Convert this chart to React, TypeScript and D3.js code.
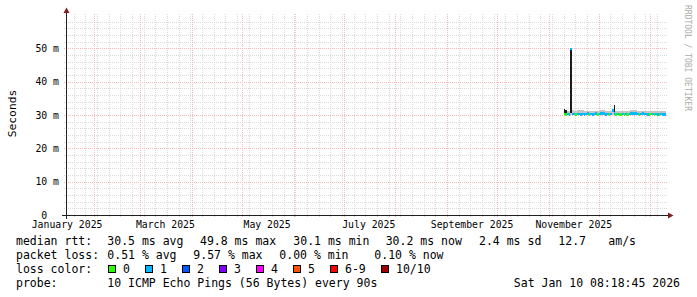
import React from "react";
import * as d3 from "d3";

// ---- data ----
const END_TIME = new Date(Date.UTC(2026, 0, 10, 8, 18, 45));
const SPAN_DAYS = 360;
const FIRST_SAMPLE_DAY = new Date(Date.UTC(2025, 10, 10));

const medianMs = [
  30.3, 30.2, 30.3, 30.2, 49.8, 30.3, 30.3, 30.2, 30.3, 30.3,
  30.2, 30.3, 30.2, 30.3, 30.4, 30.2, 30.3, 30.2, 30.3, 30.4,
  30.2, 30.3, 30.5, 30.5, 30.4, 30.2, 30.3, 30.2, 30.3, 31.4,
  30.4, 30.2, 30.3, 30.2, 30.2, 30.3, 30.2, 30.3, 30.2, 30.3,
  30.5, 30.5, 30.5, 30.4, 30.3, 30.2, 30.3, 30.4, 30.3, 30.3,
  30.2, 30.2, 30.3, 30.3, 30.2, 30.3, 30.2, 30.2, 30.3, 30.2,
  30.2, 30.2,
];
const lossPings = [
  0, 0, 1, 1, 1, 1, 1, 0, 1, 1,
  1, 1, 1, 1, 1, 0, 1, 1, 1, 1,
  0, 1, 1, 1, 1, 1, 1, 0, 1, 1,
  1, 0, 1, 0, 0, 1, 0, 1, 0, 1,
  1, 1, 1, 1, 1, 0, 1, 1, 1, 1,
  1, 0, 0, 1, 0, 1, 1, 0, 1, 1,
  1, 1,
];
const smokeLowMs = [
  29.9, 29.9, 30.0, 29.9, 30.0, 30.0, 30.0, 29.9, 30.0, 30.0,
  29.9, 30.0, 29.9, 30.0, 30.0, 29.9, 30.0, 29.9, 30.0, 30.0,
  29.9, 30.0, 30.1, 30.1, 30.0, 29.9, 30.0, 29.9, 30.0, 30.1,
  30.0, 29.9, 30.0, 29.9, 29.9, 30.0, 29.9, 30.0, 29.9, 30.0,
  30.1, 30.1, 30.1, 30.0, 30.0, 29.9, 30.0, 30.0, 30.0, 30.0,
  29.9, 29.9, 30.0, 30.0, 29.9, 30.0, 29.9, 29.9, 30.0, 29.9,
  29.9, 29.9,
];
const smokeHighMs = [
  31.3, 31.2, 31.2, 31.1, 31.3, 31.4, 31.2, 31.1, 31.5, 31.5,
  31.4, 31.5, 31.1, 31.2, 31.3, 31.1, 31.2, 31.1, 31.2, 31.3,
  31.1, 31.2, 31.5, 31.6, 31.4, 31.1, 31.2, 31.1, 31.2, 31.9,
  31.3, 31.1, 31.2, 31.1, 31.1, 31.2, 31.1, 31.2, 31.1, 31.2,
  31.5, 31.6, 31.5, 31.4, 31.2, 31.1, 31.2, 31.3, 31.2, 31.2,
  31.1, 31.1, 31.2, 31.2, 31.1, 31.2, 31.1, 31.1, 31.2, 31.1,
  31.1, 31.1,
];
const darkSampleIdx = [0, 1, 4, 30];
const darkLowMs = [30.4, 30.4, 30.6, 30.6];
const darkHighMs = [31.7, 31.4, 49.6, 33.0];

const yMaxMs = 60;
const yLabelTicks = [0, 10, 20, 30, 40, 50];

const lossLabels = ["0", "1", "2", "3", "4", "5", "6-9", "10/10"];
const lossColors = ["#26ff00", "#00b8ff", "#0059ff", "#7e00ff", "#ff00ff", "#ff5500", "#ff0000", "#a10000"];

const rttTexts = ["30.5 ms avg", "49.8 ms max", "30.1 ms min", "30.2 ms now", "2.4 ms sd", "12.7", "am/s"];
const lossTexts = ["0.51 % avg", "9.57 % max", "0.00 % min", "0.10 % now"];
const probeText = "10 ICMP Echo Pings (56 Bytes) every 90s";
const stampText = "Sat Jan 10 08:18:45 2026";

// ---- layout ----
const W = 697, H = 297;
const X0 = 66, X1 = 666, Y0 = 215, Y1 = 15;
const MONO = "'DejaVu Sans Mono', monospace";
const rttX = [107.3, 200, 293.3, 385.7, 479, 558.3, 608.3];
const lossX = [107.3, 193.3, 279.3, 374.3];
const GRID = "#d9d9d9";
const MGRID = "#f3b9b9";
const AXIS = "#1f1f1f";
const ARROW = "#801f1f";

function lossColor(l: number) {
  if (l <= 0) return lossColors[0];
  if (l <= 1) return lossColors[1];
  if (l <= 2) return lossColors[2];
  if (l <= 3) return lossColors[3];
  if (l <= 4) return lossColors[4];
  if (l <= 5) return lossColors[5];
  if (l < 10) return lossColors[6];
  return lossColors[7];
}

export default function App() {
  const start = d3.utcDay.offset(END_TIME, -SPAN_DAYS);
  const x = d3.scaleUtc().domain([start, END_TIME]).range([X0, X1]);
  const y = d3.scaleLinear().domain([0, yMaxMs]).range([Y0, Y1]);
  const px = (v: number) => Math.round(v) + 0.5;

  const weeks = d3.utcMonday.range(start, END_TIME);
  const months = d3.utcMonth.range(start, END_TIME);
  const labelMonths = d3.utcMonth
    .every(2)!
    .range(d3.utcMonth.floor(start), END_TIME)
    .map((m) => d3.utcDay.offset(m, 15))
    .filter((t) => t >= start && t <= d3.utcDay.offset(END_TIME, -15));
  const monthFmt = d3.utcFormat("%B %Y");

  const minorY: number[] = [];
  for (let v = 2; v < yMaxMs; v += 2) if (v % 10 !== 0) minorY.push(v);
  const majorY = yLabelTicks.filter((v) => v > 0);

  const days = medianMs.map((_, i) => d3.utcDay.offset(FIRST_SAMPLE_DAY, i));
  const dayEnd = (i: number) => d3.utcDay.offset(FIRST_SAMPLE_DAY, i + 1);

  let legendCursor = 108;
  const legendItems = lossLabels.map((lab, i) => {
    const bx = legendCursor;
    legendCursor += lab.length * 7 + 30;
    return { lab, bx, color: lossColors[i] };
  });

  return (
    <svg width={W} height={H} style={{ position: "absolute", left: 0, top: 0, background: "#fff" }}>
      <rect x={0} y={0} width={W} height={H} fill="#ffffff" />
      <defs>
        <clipPath id="plot">
          <rect x={X0} y={Y1} width={X1 - X0} height={Y0 - Y1} />
        </clipPath>
      </defs>

      {/* horizontal grid */}
      {minorY.map((v) => (
        <line key={"hm" + v} x1={X0 - 2} x2={X1 + 2} y1={px(y(v))} y2={px(y(v))}
          stroke={GRID} strokeWidth={1} strokeDasharray="1 1" />
      ))}
      {/* vertical minor grid */}
      {weeks.map((t) => (
        <line key={"vw" + t.getTime()} x1={px(x(t))} x2={px(x(t))} y1={Y0 + 2} y2={Y1 - 2}
          stroke={GRID} strokeWidth={1} strokeDasharray="1 1" />
      ))}
      {/* major grid */}
      {majorY.map((v) => (
        <line key={"hM" + v} x1={X0 - 2} x2={X1 + 2} y1={px(y(v))} y2={px(y(v))}
          stroke={MGRID} strokeWidth={1} strokeDasharray="1 1" />
      ))}
      {months.map((t) => (
        <line key={"vM" + t.getTime()} x1={px(x(t))} x2={px(x(t))} y1={Y0 + 2} y2={Y1 - 2}
          stroke={MGRID} strokeWidth={1} strokeDasharray="1 1" />
      ))}

      {/* data: smoke, dark smoke, median band */}
      <g clipPath="url(#plot)" shapeRendering="crispEdges">
        {days.map((d, i) => (
          <rect key={"s" + i} x={x(d)} width={x(dayEnd(i)) - x(d)}
            y={y(smokeHighMs[i])} height={y(smokeLowMs[i]) - y(smokeHighMs[i])} fill="#c4c4c4" />
        ))}
        {darkSampleIdx.map((idx, k) => (
          <rect key={"d" + k} x={x(days[idx])} width={x(dayEnd(idx)) - x(days[idx])}
            y={y(darkHighMs[k])} height={y(darkLowMs[k]) - y(darkHighMs[k])} fill="#1c1c1c" />
        ))}
        {days.map((d, i) => (
          <rect key={"m" + i} x={x(d)} width={x(dayEnd(i)) - x(d)}
            y={y(medianMs[i]) - 1.25} height={2.5} fill={lossColor(lossPings[i])} />
        ))}
      </g>

      {/* axes */}
      <line x1={X0 - 4} x2={X1 + 4} y1={Y0 + 0.5} y2={Y0 + 0.5} stroke={AXIS} strokeWidth={1} />
      <line x1={X0 + 0.5} x2={X0 + 0.5} y1={Y0 + 4} y2={Y1 - 4} stroke={AXIS} strokeWidth={1} />
      <polygon points={`${X1 + 2},${Y0 - 2.5} ${X1 + 2},${Y0 + 3.5} ${X1 + 7.5},${Y0 + 0.5}`} fill={ARROW} />
      <polygon points={`${X0 - 2.5},${Y1 - 2} ${X0 + 3.5},${Y1 - 2} ${X0 + 0.5},${Y1 - 7.5}`} fill={ARROW} />

      {/* y labels */}
      {yLabelTicks.map((v) => (
        <text key={"yl" + v} x={X0 - 7} y={y(v)} dy="0.36em" textAnchor="end"
          fontFamily={MONO} fontSize={9.8} fill="#000">
          {v === 0 ? "0\u00a0\u00a0" : `${v} m`}
        </text>
      ))}
      {/* x labels */}
      {labelMonths.map((t) => (
        <text key={"xl" + t.getTime()} x={x(t)} y={228} textAnchor="middle"
          fontFamily={MONO} fontSize={9.8} fill="#000">
          {monthFmt(d3.utcMonth.floor(t))}
        </text>
      ))}

      {/* vertical title */}
      <text transform="translate(15.5,113.5) rotate(-90)" textAnchor="middle"
        fontFamily={MONO} fontSize={11.3} fill="#000">Seconds</text>

      {/* watermark */}
      <text transform="translate(684.5,5) rotate(90)" textAnchor="start"
        fontFamily={MONO} fontSize={8} fill="#ababab">RRDTOOL / TOBI OETIKER</text>

      {/* legend */}
      <g fontFamily={MONO} fontSize={11.5} fill="#000">
        <text x={16} y={245}>median rtt:</text>
        {rttTexts.map((s, i) => (
          <text key={"r" + i} x={rttX[i]} y={245}>{s}</text>
        ))}
        <text x={16} y={259}>packet loss:</text>
        {lossTexts.map((s, i) => (
          <text key={"l" + i} x={lossX[i]} y={259}>{s}</text>
        ))}
        <text x={16} y={273}>loss color:</text>
        {legendItems.map((it, i) => (
          <g key={"lc" + i}>
            <rect x={it.bx + 0.5} y={265.5} width={7} height={7} fill={it.color} stroke="#000" strokeWidth={1} />
            <text x={it.bx + 15} y={273}>{it.lab}</text>
          </g>
        ))}
        <text x={16} y={287}>probe:</text>
        <text x={107.3} y={287}>{probeText}</text>
        <text x={680} y={287} textAnchor="end">{stampText}</text>
      </g>
    </svg>
  );
}
